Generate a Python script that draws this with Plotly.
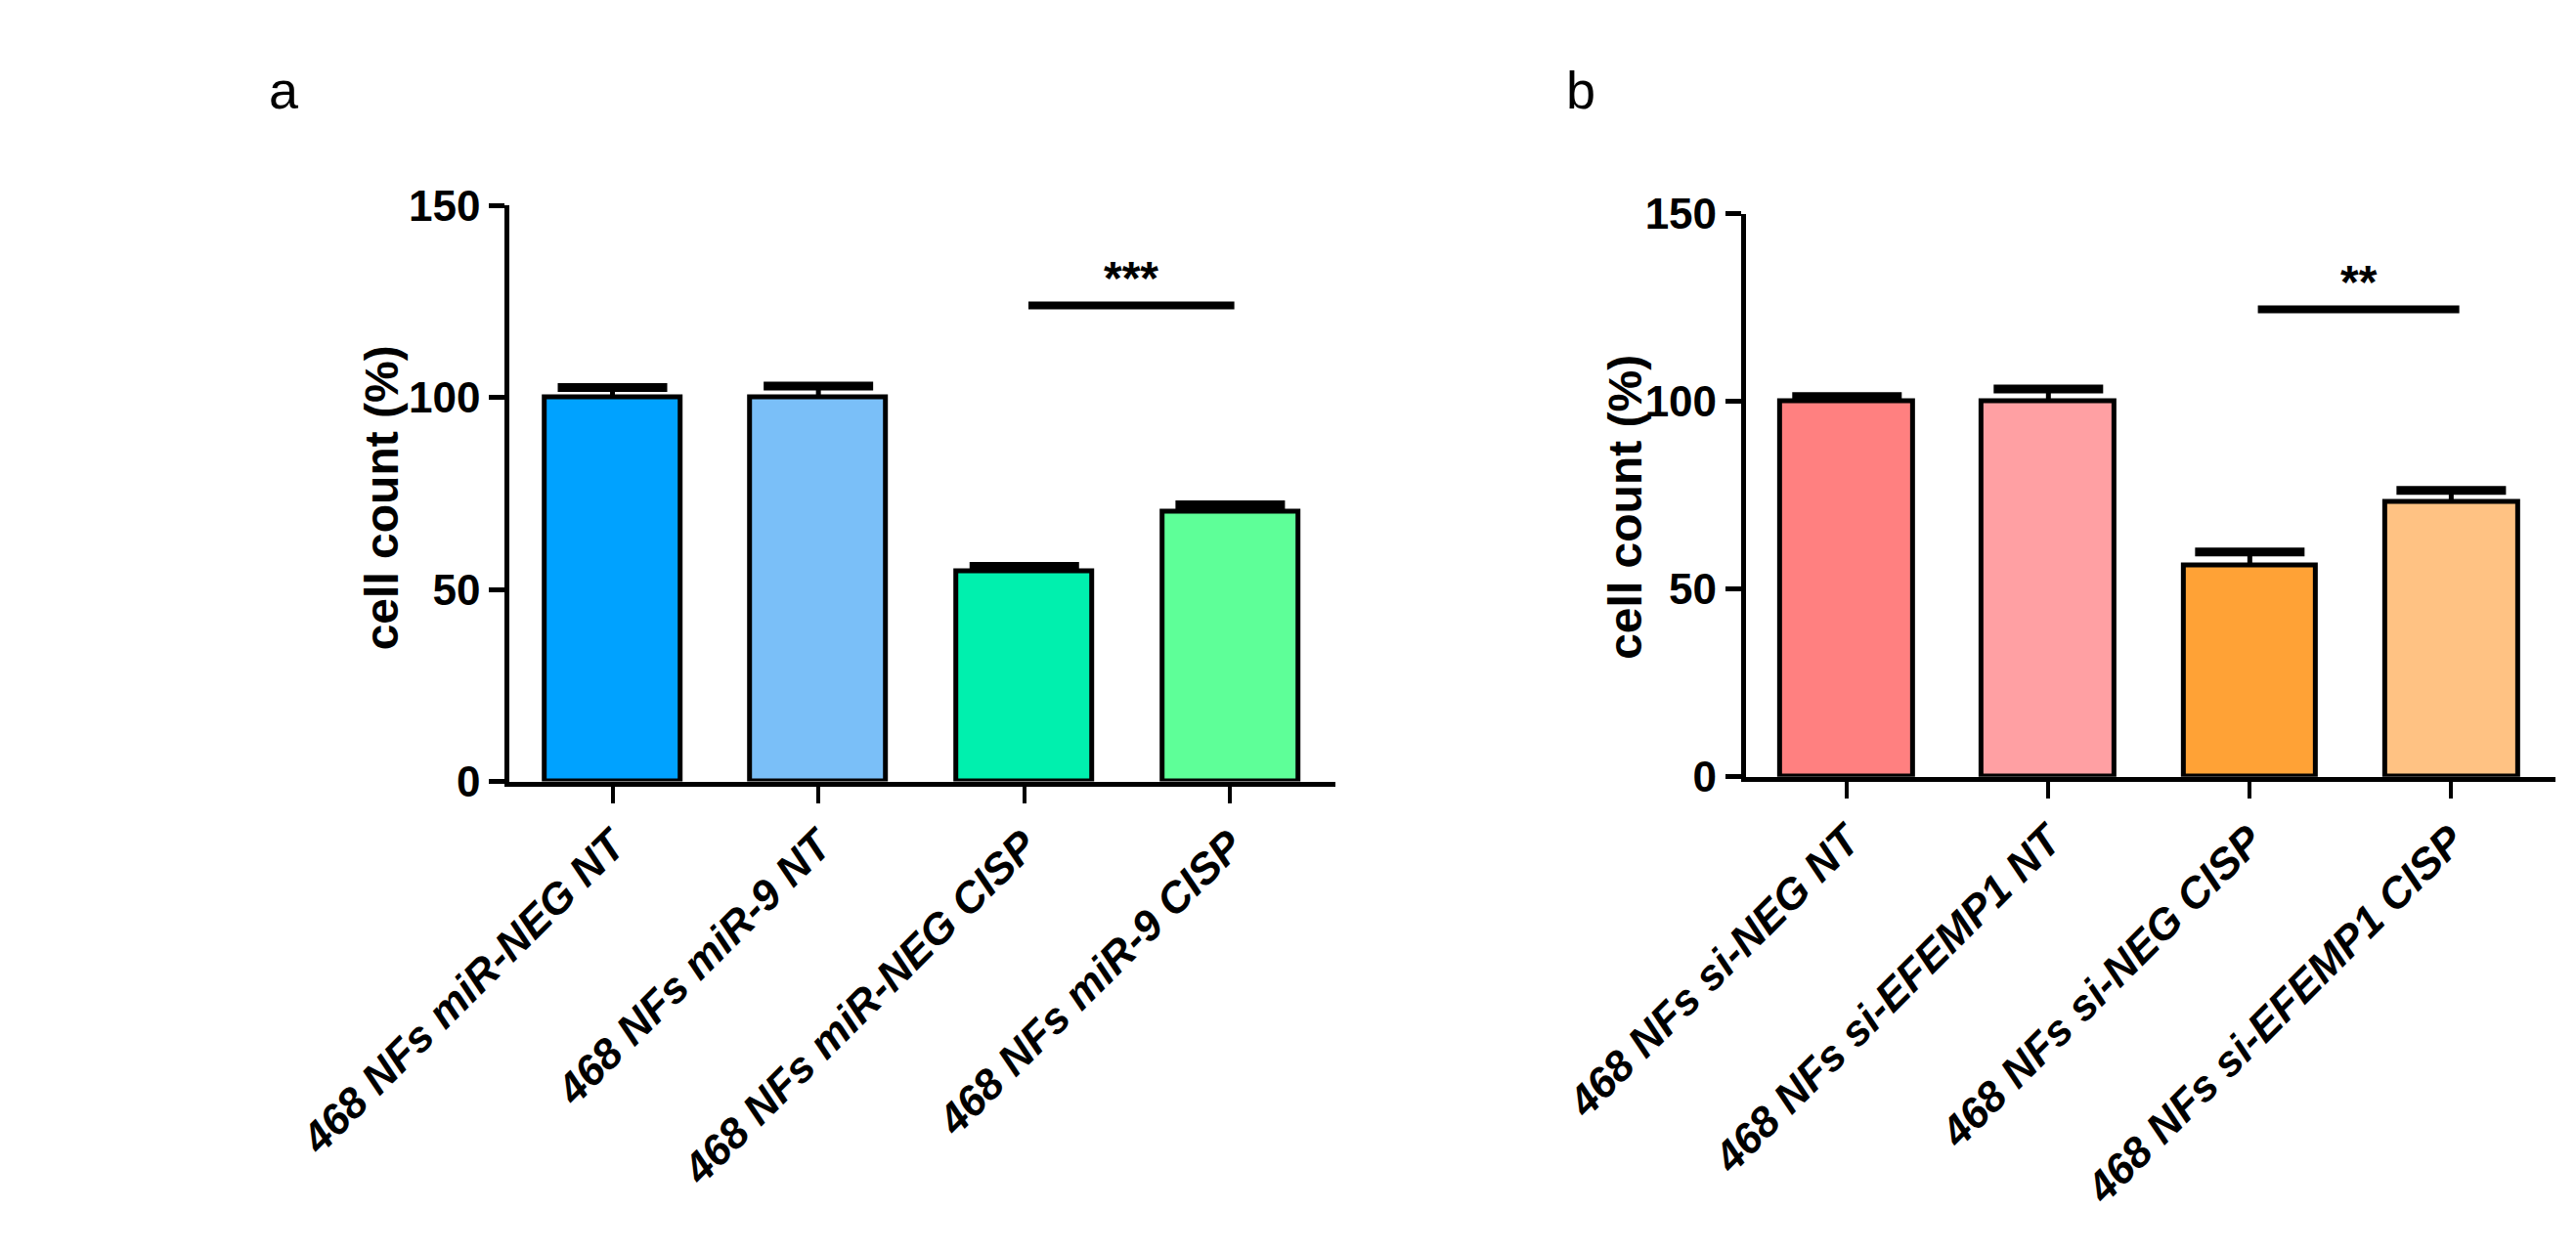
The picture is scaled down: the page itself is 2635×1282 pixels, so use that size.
import plotly.graph_objects as go

W, H = 2635, 1282

# painel a
labels_a = ['468 NFs miR-NEG NT', '468 NFs miR-9 NT',
            '468 NFs miR-NEG CISP', '468 NFs miR-9 CISP']
values_a = [100.0, 100.0, 54.7, 70.3]
errors_a = [2.6, 3.0, 1.3, 1.8]
colors_a = ['#00A2FF', '#7ABFF8', '#00F0AE', '#5EFF98']

# painel b
labels_b = ['468 NFs si-NEG NT', '468 NFs si-EFEMP1 NT',
            '468 NFs si-NEG CISP', '468 NFs si-EFEMP1 CISP']
values_b = [100.0, 100.0, 56.2, 73.2]
errors_b = [1.3, 3.3, 3.7, 3.1]
colors_b = ['#FF8080', '#FFA0A3', '#FFA236', '#FFC283']

# significancia (x inicial, x final, altura, texto)
sig_a = (2.02, 3.02, 124.0, '***')
sig_b = (2.04, 3.04, 124.5, '**')

FONT = 'Liberation Sans, Arial, sans-serif'


def px_x(p):
    return p / W


def px_y(p):
    return 1 - p / H


fig = go.Figure()

for vals, errs, cols, xa, ya in [(values_a, errors_a, colors_a, 'x', 'y'),
                                  (values_b, errors_b, colors_b, 'x2', 'y2')]:
    xs = list(range(len(vals)))
    fig.add_trace(go.Bar(
        x=xs, y=vals, xaxis=xa, yaxis=ya,
        width=0.66,
        marker=dict(color=cols, line=dict(color='black', width=5)),
        error_y=dict(type='data', array=errs, arrayminus=[0] * len(errs),
                     symmetric=False, color='black', thickness=5, width=0),
        showlegend=False,
    ))
    # tampa grossa do erro (estilo GraphPad)
    fig.add_trace(go.Scatter(
        x=xs, y=[v + e for v, e in zip(vals, errs)], xaxis=xa, yaxis=ya,
        mode='markers',
        marker=dict(symbol='line-ew', size=80, line=dict(color='black', width=9)),
        showlegend=False, hoverinfo='skip',
    ))

yaxis_style = dict(
    range=[0, 150], tickvals=[0, 50, 100, 150], showgrid=False, zeroline=False,
    showline=True, linecolor='black', linewidth=5,
    ticks='outside', ticklen=16, tickwidth=5, tickcolor='black',
    tickfont=dict(family=FONT, size=44, color='black', weight='bold'),
)
xaxis_style = dict(
    tickvals=[0, 1, 2, 3], showgrid=False, zeroline=False,
    showline=True, linecolor='black', linewidth=5,
    ticks='outside', ticklen=17, tickwidth=4, tickcolor='black',
    tickangle=-45,
    tickfont=dict(family=FONT, size=44, color='black', weight='bold', style='italic'),
)

fig.update_layout(
    width=W, height=H,
    margin=dict(l=0, r=0, t=0, b=0),
    paper_bgcolor='white', plot_bgcolor='white',
    bargap=0,
    xaxis=dict(xaxis_style, domain=[px_x(318), px_x(1241)], range=[-0.5, 3.513],
               ticktext=labels_a, anchor='y'),
    yaxis=dict(yaxis_style, domain=[px_y(797), px_y(184.5)], anchor='x'),
    xaxis2=dict(xaxis_style, domain=[px_x(1699), px_x(2603)], range=[-0.502, 3.516],
                ticktext=labels_b, anchor='y2'),
    yaxis2=dict(yaxis_style, domain=[px_y(792), px_y(193)], anchor='x2'),
)

# barras de significancia
for (x0, x1, yv, txt), xr, yr in [(sig_a, 'x', 'y'), (sig_b, 'x2', 'y2')]:
    fig.add_shape(type='line', xref=xr, yref=yr, x0=x0, x1=x1, y0=yv, y1=yv,
                  line=dict(color='black', width=8))
    fig.add_annotation(xref=xr, yref=yr, x=(x0 + x1) / 2, y=yv, text=txt,
                       showarrow=False, yanchor='bottom',
                       font=dict(family=FONT, size=48, color='black', weight='bold'))

# titulos do eixo y
for xp, yp in [(175, 495), (1565, 505)]:
    fig.add_annotation(xref='paper', yref='paper', x=px_x(xp), y=px_y(yp),
                       text='cell count (%)', textangle=-90, showarrow=False,
                       xanchor='center', yanchor='middle',
                       font=dict(family=FONT, size=48, color='black', weight='bold'))

# letras dos paineis
for txt, xp in [('a', 66), ('b', 1515)]:
    fig.add_annotation(xref='paper', yref='paper', x=px_x(xp), y=px_y(95),
                       text=txt, showarrow=False, xanchor='center', yanchor='bottom',
                       font=dict(family='Liberation Sans Narrow, ' + FONT, size=54,
                                 color='black'))

fig.write_html('out.html')
